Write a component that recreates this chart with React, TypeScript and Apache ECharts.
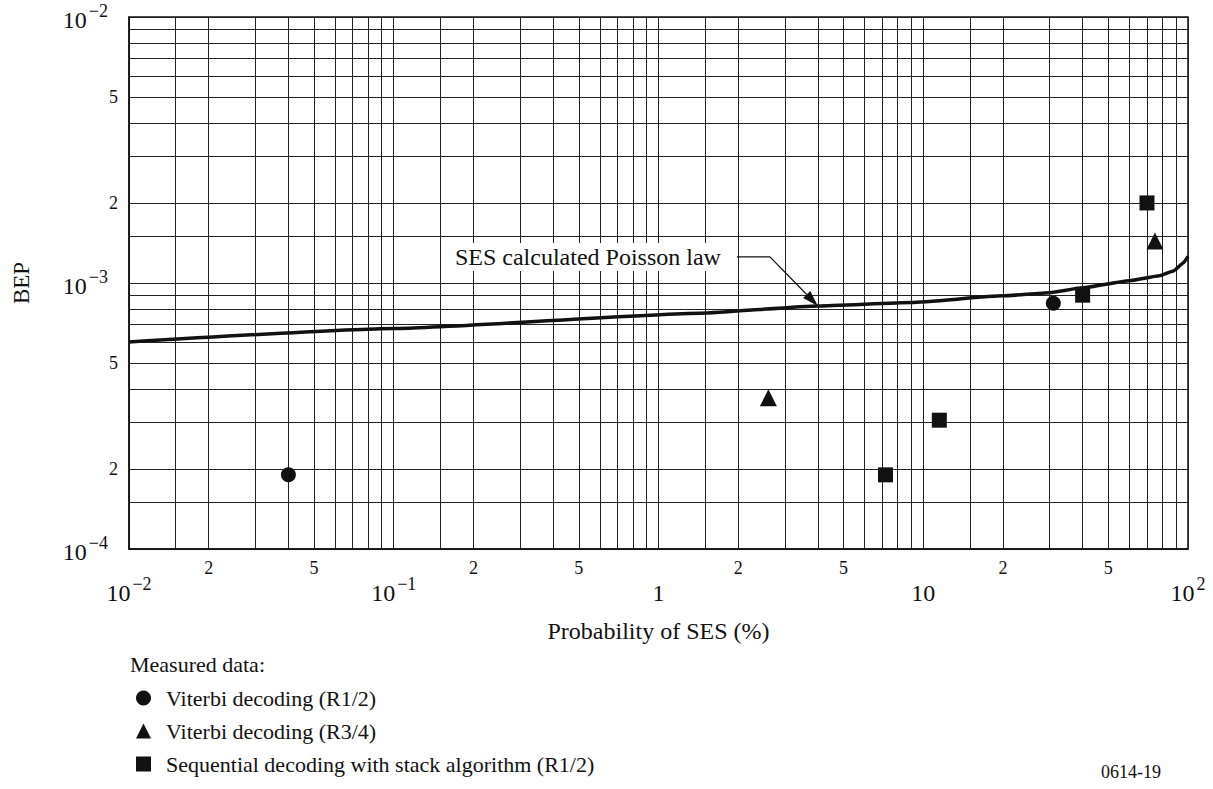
import React, { useEffect, useRef } from "react";
import * as echarts from "echarts";

const FONT = "Liberation Serif";

// grid/tick values
const xDecades = [0.01, 0.1, 1, 10];
const yDecades = [1e-4, 1e-3];
const gridMantissas = [1, 1.5, 2, 3, 4, 5, 6, 7, 8, 9];
const minorLabelMantissas = [2, 5];
const xMax = 100;
const yMax = 1e-2;

// calculated Poisson law curve
const curveX = [0.01, 0.1, 1.44, 4, 9, 20, 30, 40, 60, 78, 88, 96, 100];
const curveY = [6.0e-4, 6.75e-4, 7.7e-4, 8.2e-4, 8.45e-4, 8.95e-4, 9.2e-4, 9.6e-4, 1.02e-3, 1.065e-3, 1.11e-3, 1.19e-3, 1.26e-3];

// measured data
const viterbi12X = [0.04, 31];
const viterbi12Y = [1.9e-4, 8.4e-4];
const viterbi34X = [2.6, 75];
const viterbi34Y = [3.7e-4, 1.44e-3];
const seqX = [7.2, 11.5, 40, 70];
const seqY = [1.9e-4, 3.05e-4, 9.0e-4, 2.0e-3];

const names = [
  "Viterbi decoding (R1/2)",
  "Viterbi decoding (R3/4)",
  "Sequential decoding with stack algorithm (R1/2)",
];

function buildVals(decades: number[], top: number, mants: number[]) {
  const out: number[] = [];
  decades.forEach((d) => mants.forEach((m) => out.push(+(d * m).toPrecision(6))));
  if (!isNaN(top)) out.push(top);
  return out;
}

const xGrid = buildVals(xDecades, xMax, gridMantissas);
const yGrid = buildVals(yDecades, yMax, gridMantissas);
const xMinorLabels = buildVals(xDecades, NaN, minorLabelMantissas);
const yMinorLabels = buildVals(yDecades, NaN, minorLabelMantissas);
const xMajorLabels = [...xDecades, xMax];
const yMajorLabels = [...yDecades, yMax];

function decadeLabel(v: number) {
  const e = Math.round(Math.log10(v));
  if (e === 0) return "{b|1}";
  if (e === 1) return "{b|10}";
  const s = String(e).replace("-", "−");
  return "{b|10}{s|" + s + "}";
}
function mantLabel(v: number) {
  const e = Math.floor(Math.log10(v) + 1e-9);
  return String(Math.round(v / Math.pow(10, e)));
}

const rich = {
  b: { fontFamily: FONT, fontSize: 24, color: "#111", lineHeight: 30, verticalAlign: "bottom" },
  s: { fontFamily: FONT, fontSize: 18, color: "#111", lineHeight: 16, verticalAlign: "top", padding: [0, 0, 0, 2] },
};

export default function App() {
  const ref = useRef<HTMLDivElement>(null);
  useEffect(() => {
    const chart = echarts.init(ref.current!, null, { renderer: "svg" });
    const lineStyle = { color: "#222", width: 1 };
    const option: any = {
      animation: false,
      backgroundColor: "#fff",
      textStyle: { fontFamily: FONT },
      grid: {
        left: 129,
        right: 25,
        top: 17,
        bottom: 240,
        show: true,
        borderColor: "#111",
        borderWidth: 1.5,
        backgroundColor: "transparent",
      },
      xAxis: [
        {
          type: "log",
          logBase: 10,
          min: 0.01,
          max: xMax,
          name: "Probability of SES (%)",
          nameLocation: "middle",
          nameGap: 70,
          nameTextStyle: { fontFamily: FONT, fontSize: 24, color: "#111" },
          axisLine: { show: true, lineStyle: { color: "#111", width: 1.5 } },
          axisTick: { show: false, customValues: xGrid },
          splitLine: { show: true, lineStyle },
          axisLabel: {
            customValues: xMinorLabels,
            formatter: (v: number) => mantLabel(v),
            fontFamily: FONT,
            fontSize: 18,
            color: "#111",
            margin: 10,
          },
        },
        {
          type: "log",
          logBase: 10,
          min: 0.01,
          max: xMax,
          position: "bottom",
          axisLine: { show: false },
          axisTick: { show: false, customValues: xMajorLabels },
          splitLine: { show: false },
          axisLabel: {
            customValues: xMajorLabels,
            formatter: (v: number) => decadeLabel(v),
            rich,
            margin: 26,
          },
        },
      ],
      yAxis: [
        {
          type: "log",
          logBase: 10,
          min: 1e-4,
          max: yMax,
          name: "BEP",
          nameLocation: "middle",
          nameGap: 96,
          nameTextStyle: { fontFamily: FONT, fontSize: 23, color: "#111" },
          axisLine: { show: true, lineStyle: { color: "#111", width: 1.5 } },
          axisTick: { show: false, customValues: yGrid },
          splitLine: { show: true, lineStyle },
          axisLabel: {
            customValues: yMinorLabels,
            formatter: (v: number) => mantLabel(v),
            fontFamily: FONT,
            fontSize: 18,
            color: "#111",
            margin: 11,
          },
        },
        {
          type: "log",
          logBase: 10,
          min: 1e-4,
          max: yMax,
          position: "left",
          axisLine: { show: false },
          axisTick: { show: false, customValues: yMajorLabels },
          splitLine: { show: false },
          axisLabel: {
            customValues: yMajorLabels,
            formatter: (v: number) => decadeLabel(v),
            rich,
            margin: 21,
          },
        },
      ],
      legend: {
        orient: "vertical",
        left: 136,
        top: 687,
        padding: 0,
        itemGap: 11,
        itemWidth: 15,
        itemHeight: 15,
        data: names,
        selectedMode: false,
        textStyle: { fontFamily: FONT, fontSize: 22, color: "#111", padding: [0, 0, 0, 10] },
      },
      series: [
        {
          type: "line",
          name: "SES calculated Poisson law",
          data: curveX.map((x, i) => [x, curveY[i]]),
          showSymbol: false,
          smooth: 0.15,
          smoothMonotone: "x",
          lineStyle: { color: "#111", width: 3.5 },
          silent: true,
          z: 3,
        },
        {
          type: "scatter",
          name: names[0],
          data: viterbi12X.map((x, i) => [x, viterbi12Y[i]]),
          symbol: "circle",
          symbolSize: 15,
          itemStyle: { color: "#111", opacity: 1 },
          z: 4,
        },
        {
          type: "scatter",
          name: names[1],
          data: viterbi34X.map((x, i) => [x, viterbi34Y[i]]),
          symbol: "triangle",
          symbolSize: 17,
          itemStyle: { color: "#111", opacity: 1 },
          z: 4,
        },
        {
          type: "scatter",
          name: names[2],
          data: seqX.map((x, i) => [x, seqY[i]]),
          symbol: "rect",
          symbolSize: 15,
          itemStyle: { color: "#111", opacity: 1 },
          z: 4,
        },
      ],
    };
    chart.setOption(option);

    // annotation: arrow pointing at curve
    const tip = chart.convertToPixel({ xAxisIndex: 0, yAxisIndex: 0 }, [4, 8.2e-4]) as number[];
    const elbow = [tip[0] - 48, tip[1] - 49];
    const start = [elbow[0] - 33, elbow[1]];
    const ang = Math.atan2(tip[1] - elbow[1], tip[0] - elbow[0]);
    const L = 16, W = 5;
    const bx = tip[0] - L * Math.cos(ang), by = tip[1] - L * Math.sin(ang);
    const px = -Math.sin(ang) * W, py = Math.cos(ang) * W;
    chart.setOption({
      graphic: [
        {
          type: "polyline",
          shape: { points: [start, elbow, [bx, by]] },
          style: { stroke: "#111", lineWidth: 1.2, fill: null },
          z: 10,
        },
        {
          type: "polygon",
          shape: { points: [tip, [bx + px, by + py], [bx - px, by - py]] },
          style: { fill: "#111" },
          z: 10,
        },
        {
          type: "text",
          x: start[0] - 12,
          y: start[1],
          style: {
            text: "SES calculated Poisson law",
            fontFamily: FONT,
            fontSize: 24,
            fill: "#111",
            align: "right",
            verticalAlign: "middle",
            backgroundColor: "#fff",
            padding: [2, 4],
          },
          z: 10,
        },
        {
          type: "text",
          left: 130,
          top: 653,
          style: { text: "Measured data:", fontFamily: FONT, fontSize: 22, fill: "#111" },
        },
        {
          type: "text",
          left: 1101,
          top: 763,
          style: { text: "0614-19", fontFamily: FONT, fontSize: 18, fill: "#111" },
        },
      ],
    });
    return () => chart.dispose();
  }, []);
  return (
    <div
      ref={ref}
      style={{ position: "fixed", left: 0, top: 0, width: 1213, height: 789, background: "#fff" }}
    />
  );
}
